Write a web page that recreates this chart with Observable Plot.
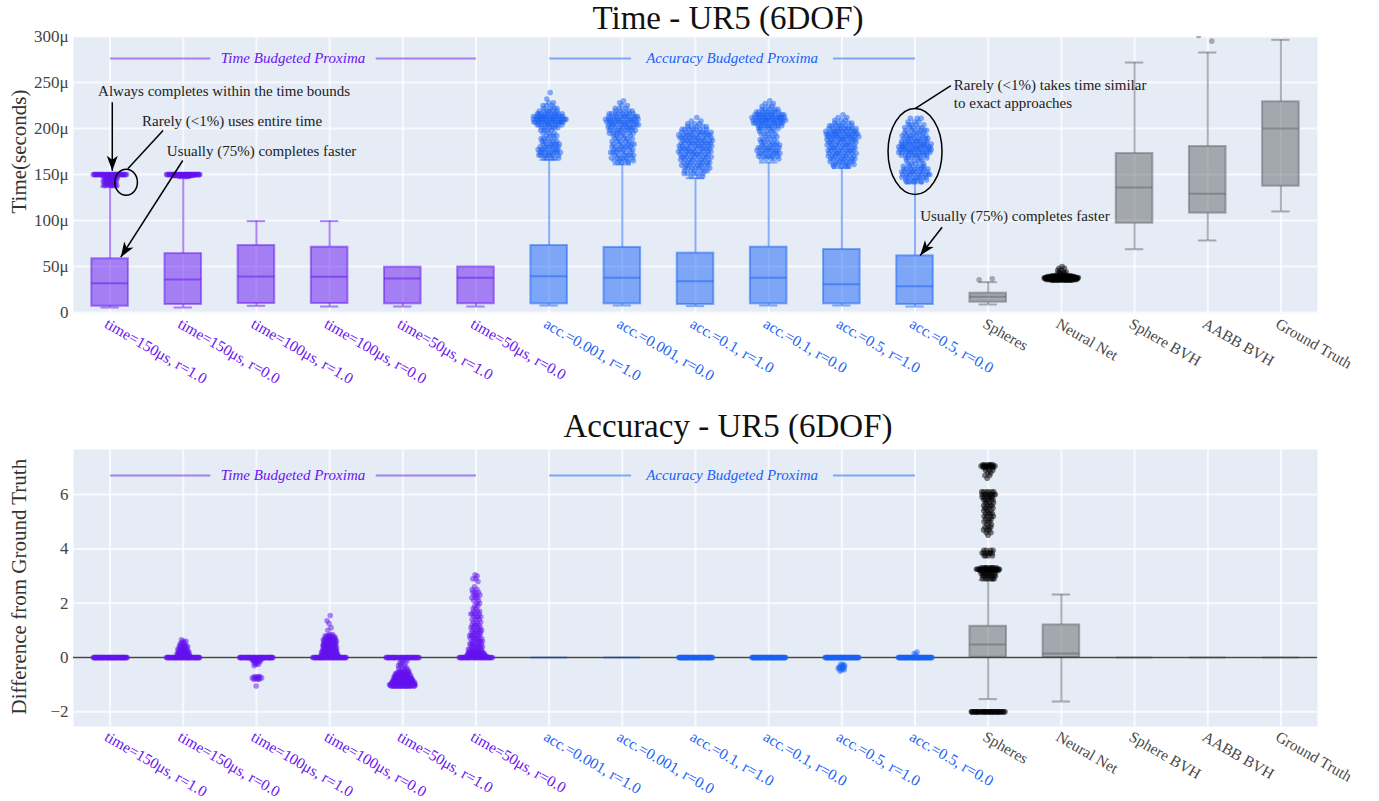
<!DOCTYPE html>
<html><head><meta charset="utf-8">
<script src="https://cdn.jsdelivr.net/npm/d3@7"></script>
<script src="https://cdn.jsdelivr.net/npm/@observablehq/plot@0.6"></script>
<style>
body{margin:0;background:#fff;}
#wrap{position:relative;width:1379px;height:801px;overflow:hidden;font-family:"Liberation Serif",serif;}
.title{position:absolute;left:428px;width:600px;text-align:center;font-size:33px;line-height:37px;color:#111;white-space:nowrap;z-index:2;}
</style></head><body><div id="wrap">
<div class="title" style="top:0px">Time - UR5 (6DOF)</div>
<div class="title" style="top:408px">Accuracy - UR5 (6DOF)</div>
</div>
<script>
const categories = ["time=150μs, r=1.0","time=150μs, r=0.0","time=100μs, r=1.0","time=100μs, r=0.0","time=50μs, r=1.0","time=50μs, r=0.0","acc.=0.001, r=1.0","acc.=0.001, r=0.0","acc.=0.1, r=1.0","acc.=0.1, r=0.0","acc.=0.5, r=1.0","acc.=0.5, r=0.0","Spheres","Neural Net","Sphere BVH","AABB BVH","Ground Truth"];
const groupOf = ["time","time","time","time","time","time","acc","acc","acc","acc","acc","acc","exact","exact","exact","exact","exact"];
const groupColor = {time: "#6312f0", acc: "#1760f6", exact: "#626468"};
const labelColor = {time: "#6a14f2", acc: "#1a62f7", exact: "#4a4a4a"};

const timeTicks = [0, 50, 100, 150, 200, 250, 300];
const accTicks = [-2, 0, 2, 4, 6];

// Time box statistics (microseconds)
const timeQ1  = [6.8, 8.7, 9.8, 9.8, 9.4, 9.5, 9.4, 9.4, 8.7, 9.4, 9.4, 8.7, 11.2, 36.5, 97, 108, 137.3];
const timeMed = [31.8, 35.9, 39, 38.8, 37, 37.7, 39.5, 37.7, 34, 37.7, 30.8, 28.6, 17, 37.5, 135.9, 129, 200];
const timeQ3  = [58.4, 64, 72.8, 71, 49.3, 49.5, 72.8, 70.7, 64.5, 71, 68.5, 61.6, 21, 38.5, 172.8, 180.4, 229];
const timeLo  = [5.4, 5.4, 7.3, 6.5, 6.5, 6.5, 7.6, 7.6, 7, 7.6, 7.6, 6.5, 8.7, 35, 68.8, 78.3, 109.8];
const timeHi  = [137, 147, 99.3, 99.3, 49.3, 49.5, 166, 161, 146, 163, 157, 140.5, 33, 41, 271.7, 282.6, 296.4];

// Time outliers: [value (μs), count]
const timeOutliers = [
  [[150,40],[148,8],[146,7],[144,7],[142,7],[140,6],[138,7]],
  [[150,45],[149,15],[148,6]],
  [], [], [], [],
  [[239,1],[232,1],[228,2],[225,3],[222,4],[219,6],[216,10],[213,14],[210,16],[207,14],[204,10],[201,6],[198,4],[195,3],[192,4],[189,4],[186,5],[183,6],[180,6],[177,7],[174,8],[171,7],[168,5]],
  [[230,1],[228,1],[225,2],[222,3],[219,5],[216,8],[213,10],[210,12],[207,12],[204,11],[201,9],[198,8],[195,7],[192,5],[189,5],[186,5],[183,6],[180,6],[177,6],[174,6],[171,6],[168,6],[165,5],[163,3]],
  [[212,1],[208,2],[205,3],[202,5],[199,7],[196,9],[193,10],[190,10],[187,10],[184,10],[181,10],[178,10],[175,10],[172,9],[169,9],[166,8],[163,8],[160,8],[157,7],[154,6],[151,5],[148,3]],
  [[230,1],[227,2],[224,3],[221,5],[218,8],[215,12],[212,14],[209,14],[206,12],[203,9],[200,6],[197,4],[194,4],[191,4],[188,4],[185,5],[182,6],[179,7],[176,7],[173,7],[170,6],[167,5]],
  [[215,1],[212,2],[209,3],[206,5],[203,7],[200,9],[197,11],[194,12],[191,12],[188,10],[185,9],[182,9],[179,9],[176,9],[173,9],[170,8],[167,8],[164,7],[161,6],[159,4]],
  [[211,3],[207,3],[204,4],[201,5],[198,6],[195,6],[192,7],[189,8],[186,9],[183,11],[180,12],[177,12],[174,11],[171,9],[168,6],[165,4],[162,4],[159,6],[156,8],[153,9],[150,9],[147,8],[144,6],[142,4]],
  [[36.6,1],[35.5,1]],
  [[50,1],[48,2],[46,2],[44,3],[42,4],[40,10],[39,20],[38,30],[37,30],[36,25],[35,12]],
  [],
  [[295,1],[301,1]],
  []
];

// Accuracy box statistics
const accQ1  = [0,0,0,0,0,0,0,0,0,0,0,0, 0.01, 0, 0,0,0];
const accMed = [0,0,0,0,0,0,0,0,0,0,0,0, 0.48, 0.15, 0,0,0];
const accQ3  = [0,0,0,0,0,0,0,0,0,0,0,0, 1.15, 1.2, 0,0,0];
const accLo  = [0,0,0,0,0,0,0,0,0,0,0,0, -1.53, -1.62, 0,0,0];
const accHi  = [0,0,0,0,0,0,0,0,0,0,0,0, 2.85, 2.32, 0,0,0];

// Accuracy outliers: [value, count]
const accOutliers = [
  [[0,60]],
  [[0,50],[0.05,8],[0.1,8],[0.15,7],[0.2,6],[0.25,5],[0.3,5],[0.35,4],[0.4,4],[0.45,3],[0.5,2],[0.55,2],[0.6,2],[0.65,1]],
  [[0,50],[-0.05,6],[-0.1,4],[-0.15,3],[-0.2,2],[-0.25,2],[-0.3,1],[-0.7,3],[-0.75,5],[-0.8,3],[-1.05,1]],
  [[0,45],[0.05,12],[0.1,12],[0.15,10],[0.2,10],[0.25,9],[0.3,8],[0.35,8],[0.4,8],[0.45,7],[0.5,7],[0.55,7],[0.6,7],[0.65,7],[0.7,6],[0.75,5],[0.8,4],[0.85,2],[1.0,1],[1.1,1],[1.25,1],[1.35,1],[1.55,1]],
  [[0,40],[-0.1,3],[-0.2,3],[-0.3,3],[-0.4,4],[-0.5,5],[-0.55,6],[-0.6,8],[-0.65,9],[-0.7,10],[-0.75,12],[-0.8,13],[-0.85,15],[-0.9,18],[-0.95,20],[-1.0,25],[-1.05,20]],
  [[0,40],[0.05,15],[0.1,12],[0.15,10],[0.2,9],[0.3,8],[0.4,7],[0.5,6],[0.6,6],[0.7,6],[0.8,6],[0.9,5],[1.0,5],[1.1,4],[1.2,4],[1.3,3],[1.4,3],[1.5,4],[1.6,4],[1.7,3],[1.8,2],[1.9,2],[2.0,2],[2.1,2],[2.2,3],[2.3,3],[2.4,3],[2.5,2],[2.6,1],[2.8,1],[2.9,2],[3.0,1],[3.05,1]],
  [], [],
  [[0,60]],
  [[0,60]],
  [[0,60],[-0.25,2],[-0.3,2],[-0.35,3],[-0.4,3],[-0.45,2],[-0.5,1]],
  [[0,60],[0.1,1],[0.15,1],[0.2,1]],
  [[7.1,6],[7.05,8],[7.0,6],[6.9,3],[6.8,2],[6.7,2],[6.6,1],[6.1,6],[6.0,8],[5.9,6],[5.8,5],[5.7,4],[5.6,4],[5.5,4],[5.4,3],[5.3,4],[5.2,4],[5.1,3],[5.0,3],[4.9,2],[4.8,3],[4.7,3],[4.6,2],[4.5,1],[3.95,4],[3.85,6],[3.75,4],[3.3,10],[3.25,20],[3.2,14],[3.1,8],[3.0,8],[2.9,6],[-2.0,40]],
  [], [], [], []
];

// group header labels
const groupLabels = [
  {text: "Time Budgeted Proxima", start: 0, end: 5, group: "time", half: 1.13},
  {text: "Accuracy Budgeted Proxima", start: 6, end: 11, group: "acc", half: 1.38}
];

// annotations (top chart, data coordinates)
const annotTexts = [
  {x: -0.164, y: 240.2, t: "Always completes within the time bounds"},
  {x: 0.437, y: 207.6, t: "Rarely (<1%) uses entire time"},
  {x: 0.775, y: 175, t: "Usually (75%) completes faster"},
  {x: 11.53, y: 247.5, t: "Rarely (<1%) takes time similar"},
  {x: 11.53, y: 228, t: "to exact approaches"},
  {x: 11.07, y: 104.4, t: "Usually (75%) completes faster"}
];
const annotArrows = [
  {x1: 0.03, y1: 228.6, x2: 0.03, y2: 154},
  {x1: 0.993, y1: 165.2, x2: 0.146, y2: 60.1},
  {x1: 11.37, y1: 92.7, x2: 11.07, y2: 61.9}
];
const annotLines = [
  {x1: 0.724, y1: 197.8, x2: 0.242, y2: 156.2},
  {x1: 11.49, y1: 246.7, x2: 11.0, y2: 221.7}
];
const annotEllipses = [
  {x: 0.219, y: 141.6, rx: 11.3, ry: 13},
  {x: 11.0, y: 175, rx: 27, ry: 43}
];

// ---------- helpers ----------
const W = 1379, ML = 73, MR = 62, MT = 10;
const kx = (W - ML - MR) / 17;

function ellipseSymbol(rx, ry) {
  const k = 0.5523;
  return {draw(c) {
    c.moveTo(rx, 0);
    c.bezierCurveTo(rx, k*ry, k*rx, ry, 0, ry);
    c.bezierCurveTo(-k*rx, ry, -rx, k*ry, -rx, 0);
    c.bezierCurveTo(-rx, -k*ry, -k*rx, -ry, 0, -ry);
    c.bezierCurveTo(k*rx, -ry, rx, -k*ry, rx, 0);
    c.closePath();
  }};
}
const arrowHead = {draw(c) { c.moveTo(0, 0); c.lineTo(-5.5, 15); c.lineTo(0, 11); c.lineTo(5.5, 15); c.closePath(); }};

function expand(outliers, colorAt) {
  const pts = [];
  outliers.forEach((bins, i) => {
    const nmax = d3.max(bins, b => b[1]) || 1;
    let k = 0;
    for (const [v, n] of bins) {
      const w = Math.min(1, Math.sqrt(n / nmax));
      for (let j = 0; j < n; j++, k++) {
        const t = (((k + 1) * 0.6180339887) % 1) * 2 - 1;
        pts.push({i, v, x: i + t * 0.235 * w, color: colorAt(i)});
      }
    }
  });
  return pts;
}

function chart(o) {
  const frameH = 277;
  const ky = frameH / (o.yDomain[1] - o.yDomain[0]);
  const boxes = categories.map((name, i) => ({
    i, name, q1: o.q1[i], med: o.med[i], q3: o.q3[i], lo: o.lo[i], hi: o.hi[i],
    color: groupColor[groupOf[i]], label: labelColor[groupOf[i]]
  }));
  const pts = expand(o.outliers, o.pointColor);
  const gl = groupLabels.map(g => ({...g, mid: (g.start + g.end) / 2, color: groupColor[g.group], label: labelColor[g.group]}));
  const glLines = gl.flatMap(g => [{x1: g.start, x2: g.mid - g.half, color: g.color}, {x1: g.mid + g.half, x2: g.end, color: g.color}]);
  const arrows = (o.arrows || []).map(a => ({...a, angle: Math.atan2((a.x2 - a.x1) * kx, (a.y2 - a.y1) * ky) * 180 / Math.PI}));
  const marks = [
    Plot.frame({fill: "#e5ecf6", stroke: "none"}),
    Plot.gridY({ticks: o.ticks, stroke: "white", strokeOpacity: 0.75, strokeWidth: 2}),
    Plot.gridX({ticks: categories.map((_, i) => i), stroke: "white", strokeOpacity: 0.75, strokeWidth: 2}),
    Plot.axisY({ticks: o.ticks, tickFormat: o.tickFormat, tickSize: 0, tickPadding: 5, label: null, fontSize: 17}),
    Plot.text([{t: o.yLabel, y: o.yLabelAt}], {y: "y", text: "t", frameAnchor: "left", textAnchor: "middle", lineAnchor: "middle", dx: -54, rotate: -90, fontSize: 21, fill: "#333"}),
    // whiskers
    Plot.ruleX(boxes, {x: "i", y1: "lo", y2: "q1", stroke: "color", strokeOpacity: 0.5, strokeWidth: 2}),
    Plot.ruleX(boxes, {x: "i", y1: "q3", y2: "hi", stroke: "color", strokeOpacity: 0.5, strokeWidth: 2}),
    Plot.ruleY(boxes.filter(d => d.hi !== d.q3), {y: "hi", x1: d => d.i - 0.125, x2: d => d.i + 0.125, stroke: "color", strokeOpacity: 0.5, strokeWidth: 2}),
    Plot.ruleY(boxes.filter(d => d.lo !== d.q1), {y: "lo", x1: d => d.i - 0.125, x2: d => d.i + 0.125, stroke: "color", strokeOpacity: 0.5, strokeWidth: 2}),
    // boxes
    Plot.rect(boxes.filter(d => d.q3 > d.q1), {x1: d => d.i - 0.25, x2: d => d.i + 0.25, y1: "q1", y2: "q3", fill: "color", fillOpacity: 0.5, stroke: "color", strokeOpacity: 0.5, strokeWidth: 2}),
    Plot.ruleY(boxes, {y: "med", x1: d => d.i - 0.25, x2: d => d.i + 0.25, stroke: "color", strokeOpacity: 0.5, strokeWidth: 2}),
  ];
  if (o.zeroLine) marks.push(Plot.ruleY([0], {stroke: "#444", strokeWidth: 1.3}));
  marks.push(
    Plot.dot(pts, {x: "x", y: "v", r: 2.8, fill: "color", fillOpacity: 0.5, stroke: "none", clip: true}),
    // group header
    Plot.link(glLines, {x1: "x1", x2: "x2", y1: () => o.groupY, y2: () => o.groupY, stroke: "color", strokeOpacity: 0.5, strokeWidth: 2}),
    Plot.text(gl, {x: "mid", y: () => o.groupY, text: "text", fill: "label", fontSize: 15, fontStyle: "italic"}),
    // x tick labels
    Plot.text(boxes, {x: "i", text: "name", frameAnchor: "bottom", dx: -4, dy: 9, rotate: 30, textAnchor: "start", lineAnchor: "middle", fill: "label", fontSize: 15.5})
  );
  if (o.annotTexts) {
    marks.push(
      Plot.link(o.lines, {x1: "x1", y1: "y1", x2: "x2", y2: "y2", stroke: "black", strokeWidth: 1.5}),
      Plot.link(arrows, {x1: "x1", y1: "y1", x2: "x2", y2: "y2", stroke: "black", strokeWidth: 1.5}),
      Plot.dot(arrows, {x: "x2", y: "y2", rotate: "angle", symbol: arrowHead, fill: "black", stroke: "none"}),
      ...o.ellipses.map(e => Plot.dot([e], {x: "x", y: "y", symbol: ellipseSymbol(e.rx, e.ry), fill: "none", stroke: "black", strokeWidth: 1.5})),
      Plot.text(o.annotTexts, {x: "x", y: "y", text: "t", textAnchor: "start", lineAnchor: "middle", fontSize: 15, fill: "#222"})
    );
  }
  const svg = Plot.plot({
    width: W, height: o.height, marginTop: MT, marginBottom: o.marginBottom, marginLeft: ML, marginRight: MR,
    x: {domain: [-0.5, 16.5], axis: null},
    y: {domain: o.yDomain},
    color: {type: "identity"},
    style: {fontFamily: '"Liberation Serif", serif', fontSize: "17px", color: "#444", background: "transparent", overflow: "visible"},
    marks
  });
  svg.style.position = "absolute";
  svg.style.left = "0px";
  svg.style.top = o.top + "px";
  svg.style.zIndex = "1";
  return svg;
}

const wrap = document.getElementById("wrap");
wrap.appendChild(chart({
  top: 26, height: 386, marginBottom: 99,
  yDomain: [-1.09, 300], ticks: timeTicks,
  tickFormat: d => d === 0 ? "0" : d + "μ",
  yLabel: "Time(seconds)", yLabelAt: 175,
  q1: timeQ1, med: timeMed, q3: timeQ3, lo: timeLo, hi: timeHi,
  outliers: timeOutliers,
  pointColor: i => i === 13 ? "#000000" : groupColor[groupOf[i]],
  groupY: 276,
  annotTexts, arrows: annotArrows, lines: annotLines, ellipses: annotEllipses
}));
wrap.appendChild(chart({
  top: 439, height: 362, marginBottom: 75,
  yDomain: [-2.54, 7.66], ticks: accTicks,
  tickFormat: d => d < 0 ? "\u2212" + (-d) : String(d),
  yLabel: "Difference from Ground Truth", yLabelAt: 2.61,
  q1: accQ1, med: accMed, q3: accQ3, lo: accLo, hi: accHi,
  outliers: accOutliers,
  pointColor: i => i === 12 ? "#000000" : groupColor[groupOf[i]],
  groupY: 6.70, zeroLine: true
}));
</script></body></html>
